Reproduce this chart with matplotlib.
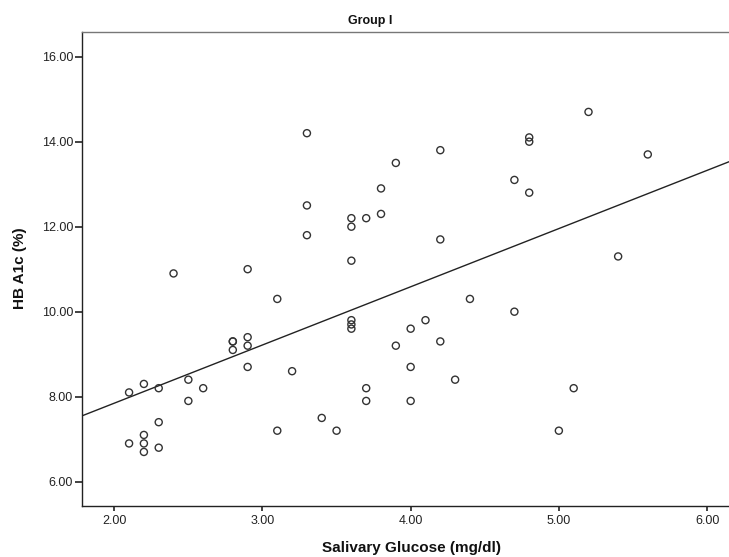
import numpy as np
import matplotlib
matplotlib.use("Agg")
from matplotlib import pyplot as plt

plt.rcParams['font.family'] = ['Liberation Sans', 'DejaVu Sans']

# Salivary glucose (mg/dl) and HbA1c (%)
salivary_glucose = [2.1, 2.1,
                    2.2, 2.2, 2.2, 2.2,
                    2.3, 2.3, 2.3,
                    2.4,
                    2.5, 2.5,
                    2.6,
                    2.8, 2.8, 2.8,
                    2.9, 2.9, 2.9, 2.9,
                    3.1, 3.1,
                    3.2,
                    3.3, 3.3, 3.3,
                    3.4,
                    3.5,
                    3.6, 3.6, 3.6, 3.6, 3.6, 3.6,
                    3.7, 3.7, 3.7,
                    3.8, 3.8,
                    3.9, 3.9,
                    4.0, 4.0, 4.0,
                    4.1,
                    4.2, 4.2, 4.2,
                    4.3,
                    4.4,
                    4.7, 4.7,
                    4.8, 4.8, 4.8,
                    5.0,
                    5.1,
                    5.2,
                    5.4,
                    5.6]
hba1c = [8.1, 6.9,
         8.3, 7.1, 6.9, 6.7,
         8.2, 7.4, 6.8,
         10.9,
         8.4, 7.9,
         8.2,
         9.3, 9.3, 9.1,
         11.0, 9.4, 9.2, 8.7,
         10.3, 7.2,
         8.6,
         14.2, 12.5, 11.8,
         7.5,
         7.2,
         12.2, 12.0, 11.2, 9.8, 9.7, 9.6,
         12.2, 8.2, 7.9,
         12.9, 12.3,
         13.5, 9.2,
         9.6, 8.7, 7.9,
         9.8,
         13.8, 11.7, 9.3,
         8.4,
         10.3,
         13.1, 10.0,
         14.1, 14.0, 12.8,
         7.2,
         8.2,
         14.7,
         11.3,
         13.7]

x_ticks = [2, 3, 4, 5, 6]
y_ticks = [6, 8, 10, 12, 14, 16]

x = np.array(salivary_glucose)
y = np.array(hba1c)

fig = plt.figure(figsize=(7.29, 5.57), dpi=100)
ax = fig.add_axes([0.1118, 0.0921, 0.8882, 0.8504])

ax.scatter(x, y, s=26, facecolors='none', edgecolors='#333333', linewidths=1.0, zorder=3)

# Linear fit line across the whole x range
xlim = (1.779, 6.148)
slope, intercept = np.polyfit(x, y, 1)
xx = np.array(xlim)
ax.plot(xx, slope * xx + intercept, color='#222222', linewidth=1.0)

ax.set_xlim(xlim)
ax.set_ylim(5.435, 16.58)
ax.set_xticks(x_ticks)
ax.set_xticklabels([f'{v:.2f}' for v in x_ticks])
ax.set_yticks(y_ticks)
ax.set_yticklabels([f'{v:.2f}' for v in y_ticks])

ax.tick_params(axis='x', length=3.5, width=1.2, pad=3, labelsize=9, colors='#222222')
ax.tick_params(axis='y', length=5, width=1.2, pad=1, labelsize=9, colors='#222222')

ax.spines['right'].set_visible(False)
ax.spines['top'].set_color('#777777')
ax.spines['left'].set_color('#222222')
ax.spines['bottom'].set_color('#222222')
for s in ['top', 'left', 'bottom']:
    ax.spines[s].set_linewidth(1.0)

fig.text(0.508, 0.962, 'Group I', ha='center', va='center', fontsize=9, fontweight='bold', color='#111111')
fig.text(0.564, 0.016, 'Salivary Glucose (mg/dl)', ha='center', va='center', fontsize=11,
         fontweight='bold', color='#111111')
fig.text(0.027, 0.519, 'HB A1c (%)', ha='center', va='center', rotation=90, fontsize=11,
         fontweight='bold', color='#111111')

fig.savefig('out.png', dpi=100)
